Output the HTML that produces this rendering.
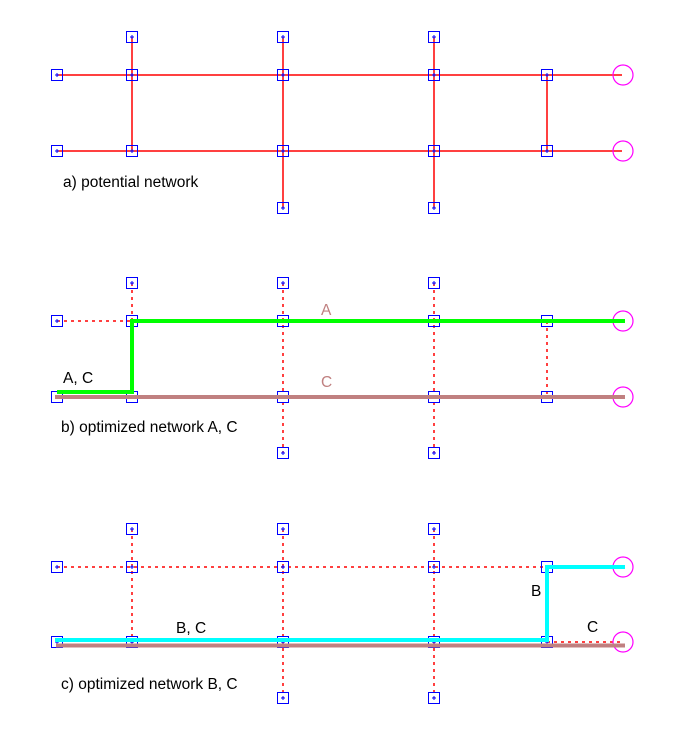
<!DOCTYPE html>
<html><head><meta charset="utf-8"><style>
html,body{margin:0;padding:0;background:#fff;}
svg{display:block;}
text{font-family:"Liberation Sans",sans-serif;font-size:15.5px;}
.c{shape-rendering:crispEdges;}
</style></head><body>
<svg width="680" height="755" viewBox="0 0 680 755" xmlns="http://www.w3.org/2000/svg">
<defs>
<g id="bx" class="c"><rect x="-5.5" y="-5.5" width="11" height="11" fill="none" stroke="#0000ff" stroke-width="1.3"/><path d="M-2 0H2M0 -2V2" stroke="#0000ff" stroke-width="1"/></g>
<g id="cr"><circle cx="0" cy="0" r="10" fill="none" stroke="#ff00ff" stroke-width="1.2"/></g>
</defs>

<!-- Panel a -->
<g stroke="#ff0000" stroke-width="1.5" fill="none">
<path d="M57 75H622M57 151H622"/>
<path d="M132 37V151M283 37V208M434 37V208M547 75V151"/>
</g>
<g>
<use href="#bx" x="132" y="37"/><use href="#bx" x="283" y="37"/><use href="#bx" x="434" y="37"/>
<use href="#bx" x="57" y="75"/><use href="#bx" x="132" y="75"/><use href="#bx" x="283" y="75"/><use href="#bx" x="434" y="75"/><use href="#bx" x="547" y="75"/>
<use href="#bx" x="57" y="151"/><use href="#bx" x="132" y="151"/><use href="#bx" x="283" y="151"/><use href="#bx" x="434" y="151"/><use href="#bx" x="547" y="151"/>
<use href="#bx" x="283" y="208"/><use href="#bx" x="434" y="208"/>
<use href="#cr" x="623" y="75"/><use href="#cr" x="623" y="151"/>
</g>
<text x="63" y="187" fill="#000">a) potential network</text>

<!-- Panel b -->
<g stroke="#ff0000" stroke-width="1.5" fill="none" stroke-dasharray="3,4">
<path d="M57 321H132"/>
<path d="M132 283V397M283 283V453M434 283V453M547 321V397"/>
</g>
<g>
<use href="#bx" x="132" y="283"/><use href="#bx" x="283" y="283"/><use href="#bx" x="434" y="283"/>
<use href="#bx" x="57" y="321"/><use href="#bx" x="132" y="321"/><use href="#bx" x="283" y="321"/><use href="#bx" x="434" y="321"/><use href="#bx" x="547" y="321"/>
<use href="#bx" x="57" y="397"/><use href="#bx" x="132" y="397"/><use href="#bx" x="283" y="397"/><use href="#bx" x="434" y="397"/><use href="#bx" x="547" y="397"/>
<use href="#bx" x="283" y="453"/><use href="#bx" x="434" y="453"/>
<use href="#cr" x="623" y="321"/><use href="#cr" x="623" y="397"/>
</g>
<path class="c" d="M55 397H625" stroke="#c08080" stroke-width="4" fill="none"/>
<path class="c" d="M57 392H132V321H625" stroke="#00ff00" stroke-width="4" fill="none" stroke-linejoin="miter"/>
<text x="321" y="315" fill="#c08080">A</text>
<text x="321" y="387" fill="#c08080">C</text>
<text x="63" y="383" fill="#000">A, C</text>
<text x="61" y="432" fill="#000">b) optimized network A, C</text>

<!-- Panel c -->
<g stroke="#ff0000" stroke-width="1.5" fill="none" stroke-dasharray="3,4">
<path d="M57 567H547M547 642H623"/>
<path d="M132 529V643M283 529V698M434 529V698"/>
</g>
<g>
<use href="#bx" x="132" y="529"/><use href="#bx" x="283" y="529"/><use href="#bx" x="434" y="529"/>
<use href="#bx" x="57" y="567"/><use href="#bx" x="132" y="567"/><use href="#bx" x="283" y="567"/><use href="#bx" x="434" y="567"/><use href="#bx" x="547" y="567"/>
<use href="#bx" x="57" y="642"/><use href="#bx" x="132" y="642"/><use href="#bx" x="283" y="642"/><use href="#bx" x="434" y="642"/><use href="#bx" x="547" y="642"/>
<use href="#bx" x="283" y="698"/><use href="#bx" x="434" y="698"/>
<use href="#cr" x="623" y="567"/><use href="#cr" x="623" y="642"/>
</g>
<path class="c" d="M56 645.5H625" stroke="#c08080" stroke-width="4" fill="none"/>
<path class="c" d="M55 640H547V567H625" stroke="#00ffff" stroke-width="4" fill="none"/>
<text x="176" y="633" fill="#000">B, C</text>
<text x="531" y="596" fill="#000">B</text>
<text x="587" y="632" fill="#000">C</text>
<text x="61" y="689" fill="#000">c) optimized network B, C</text>
</svg>
</body></html>
